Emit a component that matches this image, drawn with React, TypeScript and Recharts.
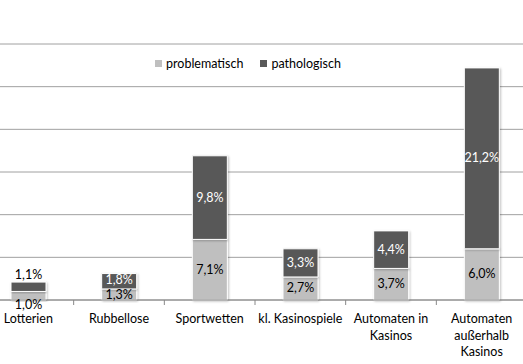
import React from "react";
import { BarChart, Bar, XAxis, YAxis, CartesianGrid, Legend, LabelList } from "recharts";

const categories = [
  "Lotterien",
  "Rubbellose",
  "Sportwetten",
  "kl. Kasinospiele",
  "Automaten in\nKasinos",
  "Automaten\naußerhalb\nKasinos",
];
const problematisch = [1.0, 1.3, 7.1, 2.7, 3.7, 6.0];
const pathologisch = [1.1, 1.8, 9.8, 3.3, 4.4, 21.2];
const yTicks = [0, 5, 10, 15, 20, 25, 30];

const data = categories.map((name, i) => ({
  name,
  problematisch: problematisch[i],
  pathologisch: pathologisch[i],
}));

const FONT = "Lato, 'Noto Sans', sans-serif";
const FS = 12.5;
const LIGHT = "#bfbfbf";
const DARK = "#595959";
const CHART_W = 544;
const BAND = CHART_W / categories.length;

const fmt = (v: number) => v.toFixed(1).replace(".", ",") + "%";

function CatTick(props: any) {
  const { x, y, payload } = props;
  const lines = String(payload.value).split("\n");
  return (
    <g>
      <line x1={x + BAND / 2} x2={x + BAND / 2} y1={y} y2={y + 5} stroke="#888" />
      <text x={x} y={y + 23} textAnchor="middle" fontSize={FS} fontFamily={FONT} fill="#000">
        {lines.map((l, i) => (
          <tspan key={i} x={x} dy={i === 0 ? 0 : 16.5}>
            {l}
          </tspan>
        ))}
      </text>
    </g>
  );
}

// small bars: nudge labels apart a bit so they don't collide
const lowLabel = (props: any) => {
  const { x, y, width, height, value, index } = props;
  let cy = y + height / 2;
  if (index === 0) cy = y + height + 5;
  if (index === 1) cy += 1;
  return (
    <text x={x + width / 2} y={cy} dy={4} textAnchor="middle" fontSize={FS} fontFamily={FONT} fill="#000">
      {fmt(value)}
    </text>
  );
};

const highLabel = (props: any) => {
  const { x, y, width, height, value, index } = props;
  const outside = index === 0;
  let cy = outside ? y - 7 : y + height / 2;
  if (index === 1) cy -= 1;
  return (
    <text
      x={x + width / 2}
      y={cy}
      dy={4}
      textAnchor="middle"
      fontSize={FS}
      fontFamily={FONT}
      fill={outside ? "#000" : "#fff"}
    >
      {fmt(value)}
    </text>
  );
};

function LegendBox() {
  const items = [
    { label: "problematisch", color: LIGHT },
    { label: "pathologisch", color: DARK },
  ];
  return (
    <div style={{ display: "flex", justifyContent: "center", gap: 17, fontFamily: FONT, fontSize: FS, paddingRight: 14 }}>
      {items.map((it) => (
        <span key={it.label} style={{ display: "flex", alignItems: "center" }}>
          <span style={{ width: 7, height: 7, background: it.color, display: "inline-block", marginRight: 4 }} />
          {it.label}
        </span>
      ))}
    </div>
  );
}

export default function App() {
  return (
    <div style={{ position: "absolute", left: 0, top: 0, width: 523, height: 364, overflow: "hidden", background: "#fff" }}>
      <div style={{ position: "absolute", left: -17, top: 0 }}>
        <BarChart width={CHART_W} height={364} data={data} margin={{ top: 44, right: 0, left: 0, bottom: 0 }} barSize={35}>
          <defs>
            <filter id="sh" x="-20%" y="-20%" width="140%" height="140%">
              <feDropShadow dx="1" dy="1" stdDeviation="1" floodColor="#000" floodOpacity="0.25" />
            </filter>
          </defs>
          <CartesianGrid vertical={false} stroke="#a0a0a0" />
          <XAxis
            dataKey="name"
            interval={0}
            tickLine={false}
            tickSize={0}
            tickMargin={0}
            height={64}
            axisLine={{ stroke: "#888" }}
            tick={<CatTick />}
          />
          <YAxis hide domain={[0, 30]} ticks={yTicks} />
          <Legend
            verticalAlign="middle"
            content={() => <LegendBox />}
            wrapperStyle={{ top: 56, left: 0, width: CHART_W }}
          />
          <Bar dataKey="problematisch" stackId="a" fill={LIGHT} stroke="#fff" strokeWidth={1} style={{ filter: "url(#sh)" }} isAnimationActive={false}>
            <LabelList dataKey="problematisch" content={lowLabel} />
          </Bar>
          <Bar dataKey="pathologisch" stackId="a" fill={DARK} stroke="#fff" strokeWidth={1} style={{ filter: "url(#sh)" }} isAnimationActive={false}>
            <LabelList dataKey="pathologisch" content={highLabel} />
          </Bar>
        </BarChart>
      </div>
    </div>
  );
}
